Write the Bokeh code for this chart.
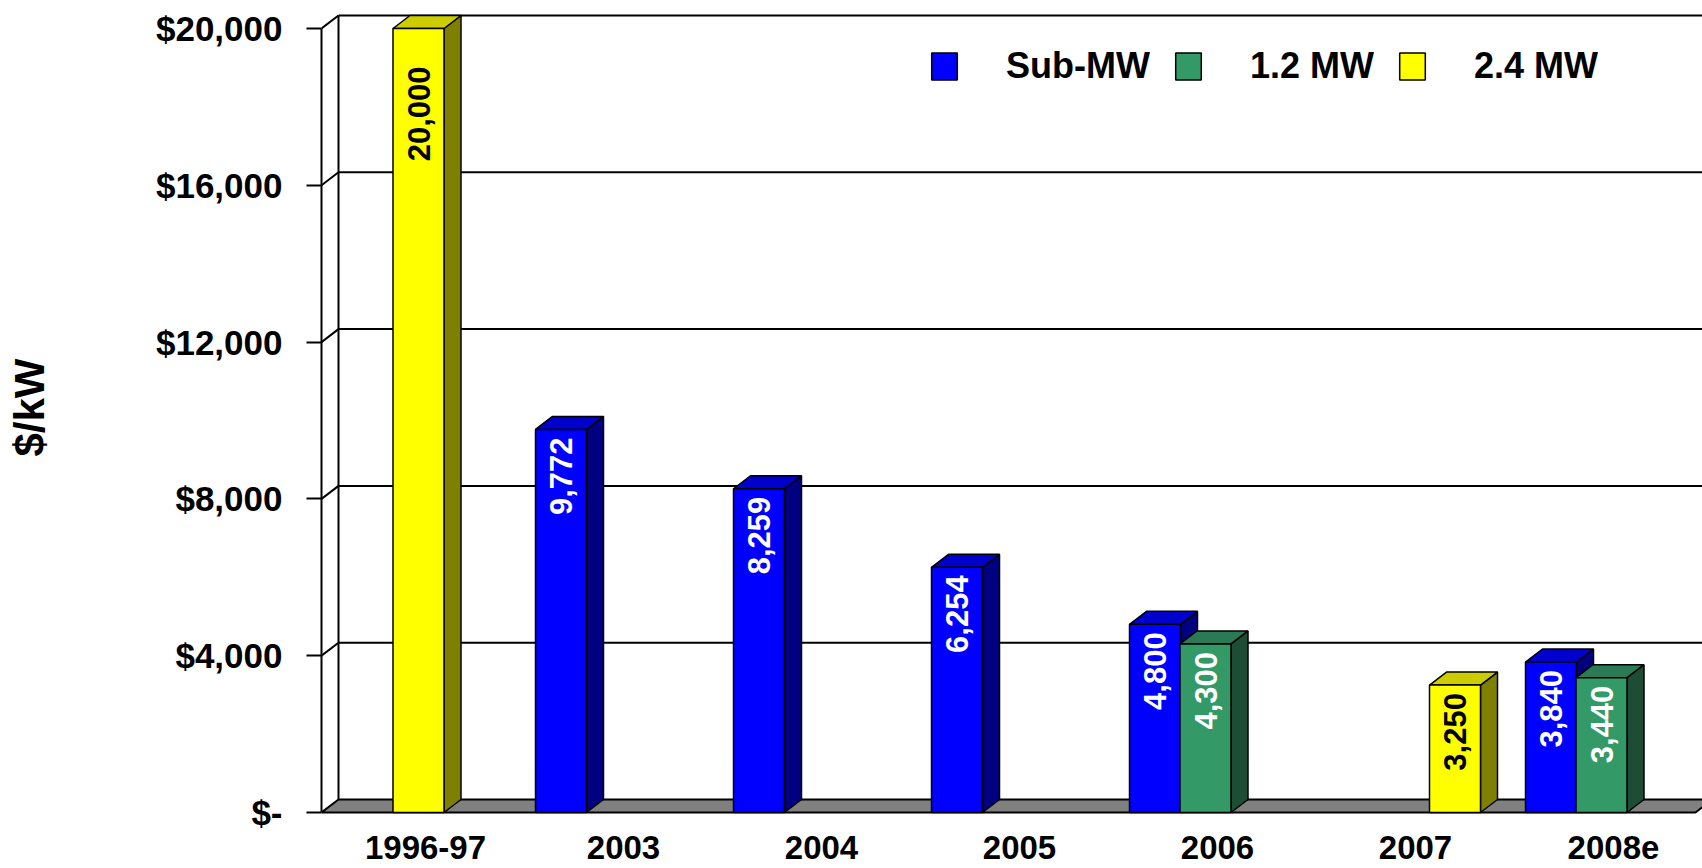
import math
from bokeh.plotting import figure
from bokeh.models import FixedTicker, Legend, LegendItem, Range1d
from bokeh.embed import file_html
from bokeh.resources import INLINE
from bokeh.core.properties import value

# ---------------- data ----------------
categories = ["1996-97", "2003", "2004", "2005", "2006", "2007", "2008e"]
sub_mw = [None, 9772, 8259, 6254, 4800, None, 3840]
mw_1_2 = [None, None, None, None, 4300, None, 3440]
mw_2_4 = [20000, None, None, None, None, 3250, None]
series_names = ["Sub-MW", "1.2 MW", "2.4 MW"]
y_tick_values = [0, 4000, 8000, 12000, 16000, 20000]
y_tick_labels = ["$-", "$4,000", "$8,000", "$12,000", "$16,000", "$20,000"]

# ---------------- layout / style ----------------
FONT = "Liberation Sans"
PX_PER_CAT = 198.0
PX_PER_UNIT = 0.0392
FIG_W, FIG_H = 1702, 868
LEFT, BOTTOM = 321, 54
FRAME_W = FIG_W - LEFT
FRAME_H = FIG_H - BOTTOM
x_start = -5.0 / PX_PER_CAT
x_end = x_start + FRAME_W / PX_PER_CAT
y_start = -2.0 / PX_PER_UNIT
y_end = y_start + FRAME_H / PX_PER_UNIT

DX = 17.0 / PX_PER_CAT          # depth offset (x)
DY = 13.0 / PX_PER_UNIT         # depth offset (y)
BAR_W = 51.0 / PX_PER_CAT
slot = {"Sub-MW": -62.5 / PX_PER_CAT, "1.2 MW": -12.0 / PX_PER_CAT, "2.4 MW": 39.5 / PX_PER_CAT}
slot_override = {("1996-97", "2.4 MW"): -7.0 / PX_PER_CAT}
colors = {
    "Sub-MW": ("#0000FF", "#0000CC", "#000080", "white"),
    "1.2 MW": ("#339966", "#2A7A55", "#1E4D36", "white"),
    "2.4 MW": ("#FFFF00", "#CCCC00", "#808000", "black"),
}

p = figure(width=FIG_W, height=FIG_H, output_backend="svg", toolbar_location=None,
           x_range=Range1d(x_start, x_end), y_range=Range1d(y_start, y_end),
           min_border_left=LEFT, min_border_right=0, min_border_top=0, min_border_bottom=BOTTOM)
p.outline_line_color = None
p.xgrid.visible = False
p.ygrid.visible = False
p.background_fill_color = "white"

# floor
floor_end = (1695 - 326) / PX_PER_CAT
p.patch([x_start, x_start + DX, floor_end + DX, floor_end], [0, DY, DY, 0],
        fill_color="#808080", line_color="black", line_width=2)

# back wall / left wall gridlines
grid_vals = [v for v in y_tick_values if v > 0]
p.segment(x0=[x_start] * len(grid_vals), y0=grid_vals,
          x1=[x_start + DX] * len(grid_vals), y1=[v + DY for v in grid_vals],
          line_color="black", line_width=2)
p.segment(x0=[x_start + DX] * len(grid_vals), y0=[v + DY for v in grid_vals],
          x1=[x_end + 1] * len(grid_vals), y1=[v + DY for v in grid_vals],
          line_color="black", line_width=2)
p.segment(x0=[x_start + DX], y0=[DY], x1=[x_start + DX], y1=[max(y_tick_values) + DY],
          line_color="black", line_width=2)

# bars
legend_items = []
label_x, label_y, label_t, label_c = [], [], [], []
for name, vals in zip(series_names, [sub_mw, mw_1_2, mw_2_4]):
    front, top, side = colors[name][:3]
    x0s, x1s, tops = [], [], []
    for k, (cat, v) in enumerate(zip(categories, vals)):
        if v is None:
            continue
        off = slot_override.get((cat, name), slot[name])
        cx = k + 0.5 + off
        x0s.append(cx - BAR_W / 2)
        x1s.append(cx + BAR_W / 2)
        tops.append(v)
        label_x.append(cx)
        # label end a little below the bar top (further down for the tallest bar)
        gap = 38.0 if v >= max(y_tick_values) else 8.0
        label_y.append(v - gap / PX_PER_UNIT)
        label_t.append(f"{v:,}")
        label_c.append(colors[name][3])
    side_xs = [[b, b, b + DX, b + DX] for b in x1s]
    side_ys = [[0, t, t + DY, DY] for t in tops]
    p.patches(side_xs, side_ys, fill_color=side, line_color="black", line_width=1.5)
    top_xs = [[a, a + DX, b + DX, b] for a, b in zip(x0s, x1s)]
    top_ys = [[t, t + DY, t + DY, t] for t in tops]
    p.patches(top_xs, top_ys, fill_color=top, line_color="black", line_width=1.5)
    r = p.quad(left=x0s, right=x1s, bottom=[0] * len(tops), top=tops,
               fill_color=front, line_color="black", line_width=1.5)
    legend_items.append(LegendItem(label=name, renderers=[r]))

p.text(x=label_x, y=label_y, text=label_t, angle=math.pi / 2,
       text_align="right", text_baseline="middle", text_color=label_c,
       text_font=value(FONT), text_font_style="bold", text_font_size="31px")

# legend
legend = Legend(items=legend_items, orientation="horizontal", location=(607, 727),
                glyph_width=32, glyph_height=34, label_standoff=46, spacing=22,
                padding=0, margin=0, border_line_alpha=0, background_fill_alpha=0,
                label_text_font=FONT, label_text_font_style="bold", label_text_font_size="36px",
                label_text_color="black", label_height=34)
p.add_layout(legend)

# y axis
ya = p.yaxis[0]
ya.ticker = FixedTicker(ticks=y_tick_values)
ya.major_label_overrides = {v: s for v, s in zip(y_tick_values, y_tick_labels)}
ya.bounds = (0, max(y_tick_values))
ya.axis_line_width = 2
ya.major_tick_line_width = 2
ya.major_tick_out = 15
ya.major_tick_in = 0
ya.minor_tick_line_color = None
ya.major_label_standoff = 24
ya.major_label_text_font = FONT
ya.major_label_text_font_style = "bold"
ya.major_label_text_font_size = "35px"
ya.major_label_text_color = "black"
ya.axis_label = "$/kW"
ya.axis_label_text_font = FONT
ya.axis_label_text_font_style = "bold"
ya.axis_label_text_font_size = "42px"
ya.axis_label_text_color = "black"
ya.axis_label_standoff = 100

# x axis
xa = p.xaxis[0]
xa.ticker = FixedTicker(ticks=[k + 0.5 for k in range(len(categories))])
xa.major_label_overrides = {k + 0.5: c for k, c in enumerate(categories)}
xa.axis_line_color = None
xa.major_tick_line_color = None
xa.minor_tick_line_color = None
xa.major_label_standoff = 15
xa.major_label_text_font = FONT
xa.major_label_text_font_style = "bold"
xa.major_label_text_font_size = "33px"
xa.major_label_text_color = "black"

open("out.html", "w").write(file_html(p, INLINE))
